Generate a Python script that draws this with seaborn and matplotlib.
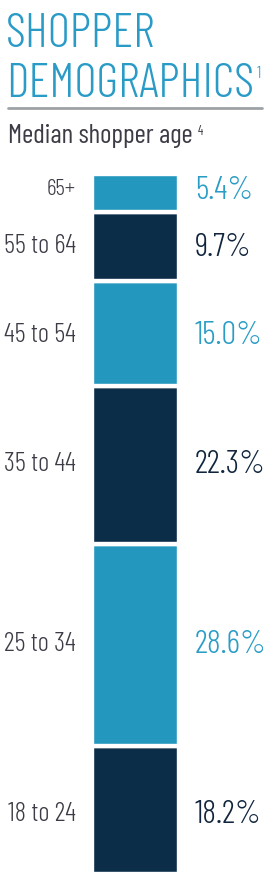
import numpy as np
import pandas as pd
import matplotlib
matplotlib.use("Agg")
import matplotlib.pyplot as plt
import seaborn as sns
from matplotlib import font_manager
from matplotlib.font_manager import FontProperties
from matplotlib.textpath import TextPath
from matplotlib.transforms import blended_transform_factory

# ---- data ----
ages = ["65+", "55 to 64", "45 to 54", "35 to 44", "25 to 34", "18 to 24"]
shares = [5.4, 9.7, 15.0, 22.3, 28.6, 18.2]
value_labels = ["5.4%", "9.7%", "15.0%", "22.3%", "28.6%", "18.2%"]
title_lines = ["SHOPPER", "DEMOGRAPHICS"]
title_note = "1"
subtitle = "Median shopper age"
subtitle_note = "4"

# ---- style ----
LIGHT = "#2497BE"
DARK = "#0B2D48"
seg_colors = [LIGHT, DARK, LIGHT, DARK, LIGHT, DARK]
text_colors = ["#2A9CC6", "#10253D", "#2A9CC6", "#10253D", "#2A9CC6", "#10253D"]
label_dy_px = [-6, -2.5, -1.5, -4, -3.5, 1.5]   # small vertical nudges of labels
label_caps = [19, 22, 22, 22, 22, 22]           # digit heights of labels, px
TITLE_C = "#2A9BC6"
GRAY_T = "#3C3C46"

sns.set_theme(style="white")

ttf = font_manager.fontManager.ttflist
names = {f.name for f in ttf}


def _w(f):
    try:
        return int(f.weight)
    except (TypeError, ValueError):
        return 400


def has_light(fam):
    return any(f.name == fam and f.style == "normal" and _w(f) <= 300 for f in ttf)


prefs = ["Barlow Condensed", "Fira Sans Extra Condensed", "Open Sans Condensed",
         "IBM Plex Sans Condensed", "Oswald", "Antonio", "Roboto Condensed",
         "PT Sans Narrow", "Archivo Narrow", "Pathway Gothic One", "Liberation Sans"]
light = [f for f in prefs if f in names and has_light(f)]
FONT = light[0] if light else next(f for f in prefs if f in names)
plt.rcParams["font.family"] = [FONT, "DejaVu Sans"]

W, H = 270, 886
fig = plt.figure(figsize=(W / 100, H / 100), dpi=100)

# bar area in pixels
BX0, BX1, BY0, BY1 = 92, 179, 174, 874
EDGE = 4.4
ax = fig.add_axes([(BX0 - EDGE / 2) / W, (H - BY1 - EDGE / 2) / H,
                   (BX1 - BX0 + EDGE) / W, (BY1 - BY0 + EDGE) / H])
df = pd.DataFrame({"group": [0] * len(ages), "age": ages, "share": shares})
sns.histplot(data=df, x="group", weights="share", hue="age", hue_order=ages,
             multiple="stack", discrete=True, shrink=1,
             palette=dict(zip(ages, seg_colors)), alpha=1,
             edgecolor="white", linewidth=EDGE * 0.72, legend=False, ax=ax)
total = sum(shares)
ky = total / (BY1 - BY0)
kx = 1.0 / (BX1 - BX0)
ax.set_ylim(-EDGE / 2 * ky, total + EDGE / 2 * ky)
ax.set_xlim(-0.5 - EDGE / 2 * kx, 0.5 + EDGE / 2 * kx)
ax.axis("off")

centres = {}
for p in ax.patches:
    h = p.get_height()
    for a, s in zip(ages, shares):
        if abs(h - s) < 1e-6:
            centres[a] = p.get_y() + h / 2

fig.canvas.draw()
r = fig.canvas.get_renderer()


def fprop(weight):
    return FontProperties(family=[FONT, "DejaVu Sans"], weight=weight)


def cap_ratio(weight, glyph="H"):
    tp = TextPath((0, 0), glyph, size=100, prop=fprop(weight))
    return tp.get_extents().height / 100.0


def width_px(s, size, weight):
    t = fig.text(0, 0, s, fontproperties=fprop(weight))
    t.set_fontsize(size)
    w = t.get_window_extent(r).width
    t.remove()
    return w


def size_for(strings, cap_px, max_w, weight, glyph="H"):
    """font size (pt) giving cap height cap_px, shrunk if the widest string exceeds max_w."""
    if isinstance(strings, str):
        strings = [strings]
    size = cap_px / cap_ratio(weight, glyph) * 0.72
    if max_w is not None:
        w = max(width_px(s, size, weight) for s in strings)
        if w > max_w:
            size *= max_w / w
    return size


def fx(x):
    return x / W


def fy(y):
    return 1 - y / H


def put(x, y, s, size, weight, color, transform=None, **kw):
    t = fig.text(x, y, s, fontproperties=fprop(weight), color=color,
                 transform=transform if transform is not None else fig.transFigure, **kw)
    t.set_fontsize(size)
    return t


tr = blended_transform_factory(fig.transFigure, ax.transData)

LAB_X, VAL_X = 76, 195
LW, VW, TW, SW = 300, 300, 300, 400
lab_size22 = size_for(ages[1:], 22, LAB_X - 4, LW, "5")
lab_ratio = lab_size22 / 22.0
val_size = size_for(value_labels, 28, 267 - VAL_X, VW, "5")
digit_lab = cap_ratio(LW, "5")
digit_val = cap_ratio(VW, "5")

for a, v, tc, dy, lc in zip(ages, value_labels, text_colors, label_dy_px, label_caps):
    yc = centres[a]
    ls = lab_ratio * lc
    hl = digit_lab * ls / 0.72
    hv = digit_val * val_size / 0.72
    put(fx(LAB_X), yc - (dy + hl / 2) * ky, a, ls, LW, GRAY_T, tr,
        ha="right", va="baseline")
    put(fx(VAL_X), yc - (dy + hv / 2) * ky, v, val_size, VW, tc, tr,
        ha="left", va="baseline")

# title
TX = 6
tsize = size_for(title_lines[1], 39, 248, TW)
put(fx(TX), fy(47), title_lines[0], tsize, TW, TITLE_C, va="baseline")
t2 = put(fx(TX), fy(97), title_lines[1], tsize, TW, TITLE_C, va="baseline")
fig.canvas.draw()
bb = t2.get_window_extent(r)
nsize = size_for(title_note, 12, None, TW, "1")
put((bb.x1 + 3) / W, fy(78), title_note, nsize, TW, TITLE_C, va="baseline")

# rule
fig.add_artist(plt.Line2D([fx(8), fx(262)], [fy(108), fy(108)], color="#9EA2A6", lw=2.0))

# subtitle
ssize = size_for(subtitle, 19, 209, SW, "M")
st = put(fx(8), fy(143), subtitle, ssize, SW, GRAY_T, va="baseline")
fig.canvas.draw()
bb = st.get_window_extent(r)
put((bb.x1 + 5) / W, fy(135), subtitle_note, size_for(subtitle_note, 9, None, SW, "4"),
    SW, GRAY_T, va="baseline")

fig.savefig("out.png", dpi=100)
